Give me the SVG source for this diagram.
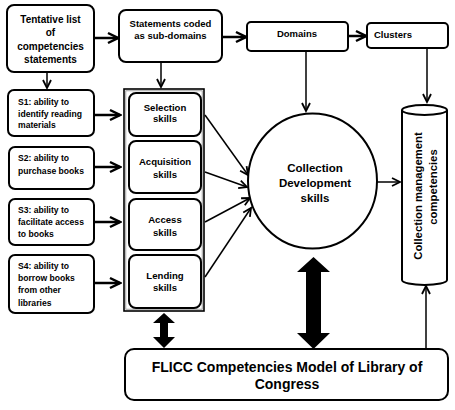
<svg xmlns="http://www.w3.org/2000/svg" width="455" height="410" viewBox="0 0 455 410">
<defs>
<style>
.box{fill:#fff;stroke:#000;stroke-width:2}
.t{font-family:"Liberation Sans",Arial,sans-serif;font-weight:bold;fill:#000}
.c{text-anchor:middle}
.ln{stroke:#000;stroke-width:2.5;fill:none}
.thin{stroke:#000;stroke-width:1.5;fill:none}
</style>
<marker id="arr" markerUnits="userSpaceOnUse" markerWidth="14" markerHeight="14" viewBox="0 0 14 14" refX="12" refY="7" orient="auto">
<path d="M2,2 L12,7 L2,12" fill="none" stroke="#000" stroke-width="2.5"/>
</marker>
<marker id="sm" markerUnits="userSpaceOnUse" markerWidth="12" markerHeight="12" viewBox="0 0 12 12" refX="10" refY="6" orient="auto">
<path d="M2,2 L10,6 L2,10" fill="none" stroke="#000" stroke-width="1.8"/>
</marker>
</defs>
<rect width="455" height="410" fill="#fff"/>

<g id="connectors">
<line class="ln" x1="94" y1="38" x2="118" y2="38" marker-end="url(#arr)"/>
<line class="ln" x1="222" y1="37" x2="246" y2="37" marker-end="url(#arr)"/>
<line class="ln" x1="348" y1="36" x2="366" y2="36" marker-end="url(#arr)"/>
<line class="thin" x1="47" y1="72" x2="47" y2="88" stroke-width="2" marker-end="url(#sm)"/>
<line class="thin" x1="161" y1="62" x2="161" y2="87" stroke-width="2" marker-end="url(#sm)"/>
<line class="thin" x1="306" y1="51" x2="306" y2="111" stroke-width="2" marker-end="url(#sm)"/>
<line class="thin" x1="427" y1="48" x2="427" y2="102" stroke-width="2" marker-end="url(#sm)"/>
<line class="ln" x1="94" y1="115" x2="120" y2="115" marker-end="url(#arr)"/>
<line class="ln" x1="94" y1="167" x2="120" y2="167" marker-end="url(#arr)"/>
<line class="ln" x1="94" y1="222" x2="120" y2="222" marker-end="url(#arr)"/>
<line class="ln" x1="94" y1="283" x2="120" y2="283" marker-end="url(#arr)"/>
<line class="thin" x1="205" y1="115" x2="248" y2="175" marker-end="url(#sm)"/>
<line class="thin" x1="205" y1="172" x2="247" y2="187" marker-end="url(#sm)"/>
<line class="thin" x1="205" y1="222" x2="250" y2="198" marker-end="url(#sm)"/>
<line class="thin" x1="205" y1="277" x2="251" y2="208" marker-end="url(#sm)"/>
<line class="thin" x1="377" y1="182" x2="400" y2="182" stroke-width="2" marker-end="url(#sm)"/>
<line class="thin" x1="426" y1="349" x2="426" y2="286" stroke-width="2" marker-end="url(#sm)"/>
<polygon points="164,313 175,323 168,323 168,337 175,337 164,348 153,337 160,337 160,323 153,323" fill="#000"/>
<polygon points="313.5,257 330,272 321,272 321,333 330,333 313.5,349 297,333 306,333 306,272 297,272" fill="#000"/>
</g>

<g id="tentative">
<rect class="box" x="7" y="5" width="87" height="67" rx="7"/>
<text class="t c" font-size="10" x="50.5" y="22.5">Tentative list</text>
<text class="t c" font-size="10" x="50.5" y="36">of</text>
<text class="t c" font-size="10" x="50.5" y="49.5">competencies</text>
<text class="t c" font-size="10" x="50.5" y="62.5">statements</text>
</g>

<g id="statements">
<rect class="box" x="119" y="10" width="103" height="52" rx="7"/>
<text class="t c" font-size="9.5" x="170.5" y="26.5">Statements coded</text>
<text class="t c" font-size="9.5" x="170.5" y="38.5">as sub-domains</text>
</g>

<g id="domains">
<rect class="box" x="247" y="22" width="101" height="29" rx="4"/>
<text class="t c" font-size="9.5" x="297" y="36.5">Domains</text>
</g>

<g id="clusters">
<rect class="box" x="367" y="23" width="81" height="25" rx="4"/>
<text class="t" font-size="9.5" x="374" y="38">Clusters</text>
</g>

<g id="s1">
<rect class="box" x="8" y="90" width="86" height="46" rx="6"/>
<text class="t" font-size="8.6" x="18" y="105">S1: ability to</text>
<text class="t" font-size="8.6" x="18" y="116.5">identify reading</text>
<text class="t" font-size="8.6" x="18" y="128">materials</text>
</g>

<g id="s2">
<rect class="box" x="9" y="147" width="85" height="42" rx="6"/>
<text class="t" font-size="8.6" x="18" y="160.5">S2: ability to</text>
<text class="t" font-size="8.6" x="18" y="174">purchase books</text>
</g>

<g id="s3">
<rect class="box" x="9" y="199" width="85" height="46" rx="6"/>
<text class="t" font-size="8.6" x="18" y="213">S3: ability to</text>
<text class="t" font-size="8.6" x="18" y="225">facilitate access</text>
<text class="t" font-size="8.6" x="18" y="236.5">to books</text>
</g>

<g id="s4">
<rect class="box" x="9" y="255" width="85" height="58" rx="6"/>
<text class="t" font-size="8.6" x="18" y="269">S4: ability to</text>
<text class="t" font-size="8.6" x="18" y="281">borrow books</text>
<text class="t" font-size="8.6" x="18" y="292.5">from other</text>
<text class="t" font-size="8.6" x="18" y="306">libraries</text>
</g>

<g id="skills-frame">
<rect x="124" y="89" width="80" height="222" fill="#fff" stroke="#000" stroke-width="1.6"/>
<rect x="125.8" y="90.8" width="76.4" height="218.4" fill="none" stroke="#888" stroke-width="0.8"/>
</g>

<g id="selection">
<rect class="box" x="129" y="93" width="72" height="43" rx="7"/>
<text class="t c" font-size="9.6" x="165" y="110.5">Selection</text>
<text class="t c" font-size="9.6" x="165" y="122">skills</text>
</g>

<g id="acquisition">
<rect class="box" x="129" y="141" width="72" height="52" rx="7"/>
<text class="t c" font-size="9.6" x="165" y="164.5">Acquisition</text>
<text class="t c" font-size="9.6" x="165" y="177.5">skills</text>
</g>

<g id="access">
<rect class="box" x="129" y="199" width="72" height="51" rx="7"/>
<text class="t c" font-size="9.6" x="165" y="222.5">Access</text>
<text class="t c" font-size="9.6" x="165" y="235.5">skills</text>
</g>

<g id="lending">
<rect class="box" x="129" y="255" width="72" height="53" rx="7"/>
<text class="t c" font-size="9.6" x="165" y="278.5">Lending</text>
<text class="t c" font-size="9.6" x="165" y="291">skills</text>
</g>

<g id="collection-development">
<ellipse cx="312.5" cy="181" rx="64.5" ry="67.5" fill="#fff" stroke="#000" stroke-width="2"/>
<text class="t c" font-size="11.5" x="315" y="172">Collection</text>
<text class="t c" font-size="11.5" x="315" y="187">Development</text>
<text class="t c" font-size="11.5" x="315" y="202">skills</text>
</g>

<g id="cylinder">
<path d="M402,110 L402,280 A22.5,5 0 0 0 447,280 L447,110" fill="#fff" stroke="#000" stroke-width="2"/>
<ellipse cx="424.5" cy="110" rx="22.5" ry="5" fill="#fff" stroke="#000" stroke-width="2"/>
<text class="t c" font-size="11.3" transform="translate(422,196) rotate(-90)">Collection management</text>
<text class="t c" font-size="11.3" transform="translate(437,187) rotate(-90)">competencies</text>
</g>

<g id="flicc">
<rect class="box" x="125" y="349" width="323" height="51" rx="9"/>
<text class="t c" font-size="14" x="287" y="372">FLICC Competencies Model of Library of</text>
<text class="t c" font-size="14" x="287" y="389">Congress</text>
</g>
</svg>
